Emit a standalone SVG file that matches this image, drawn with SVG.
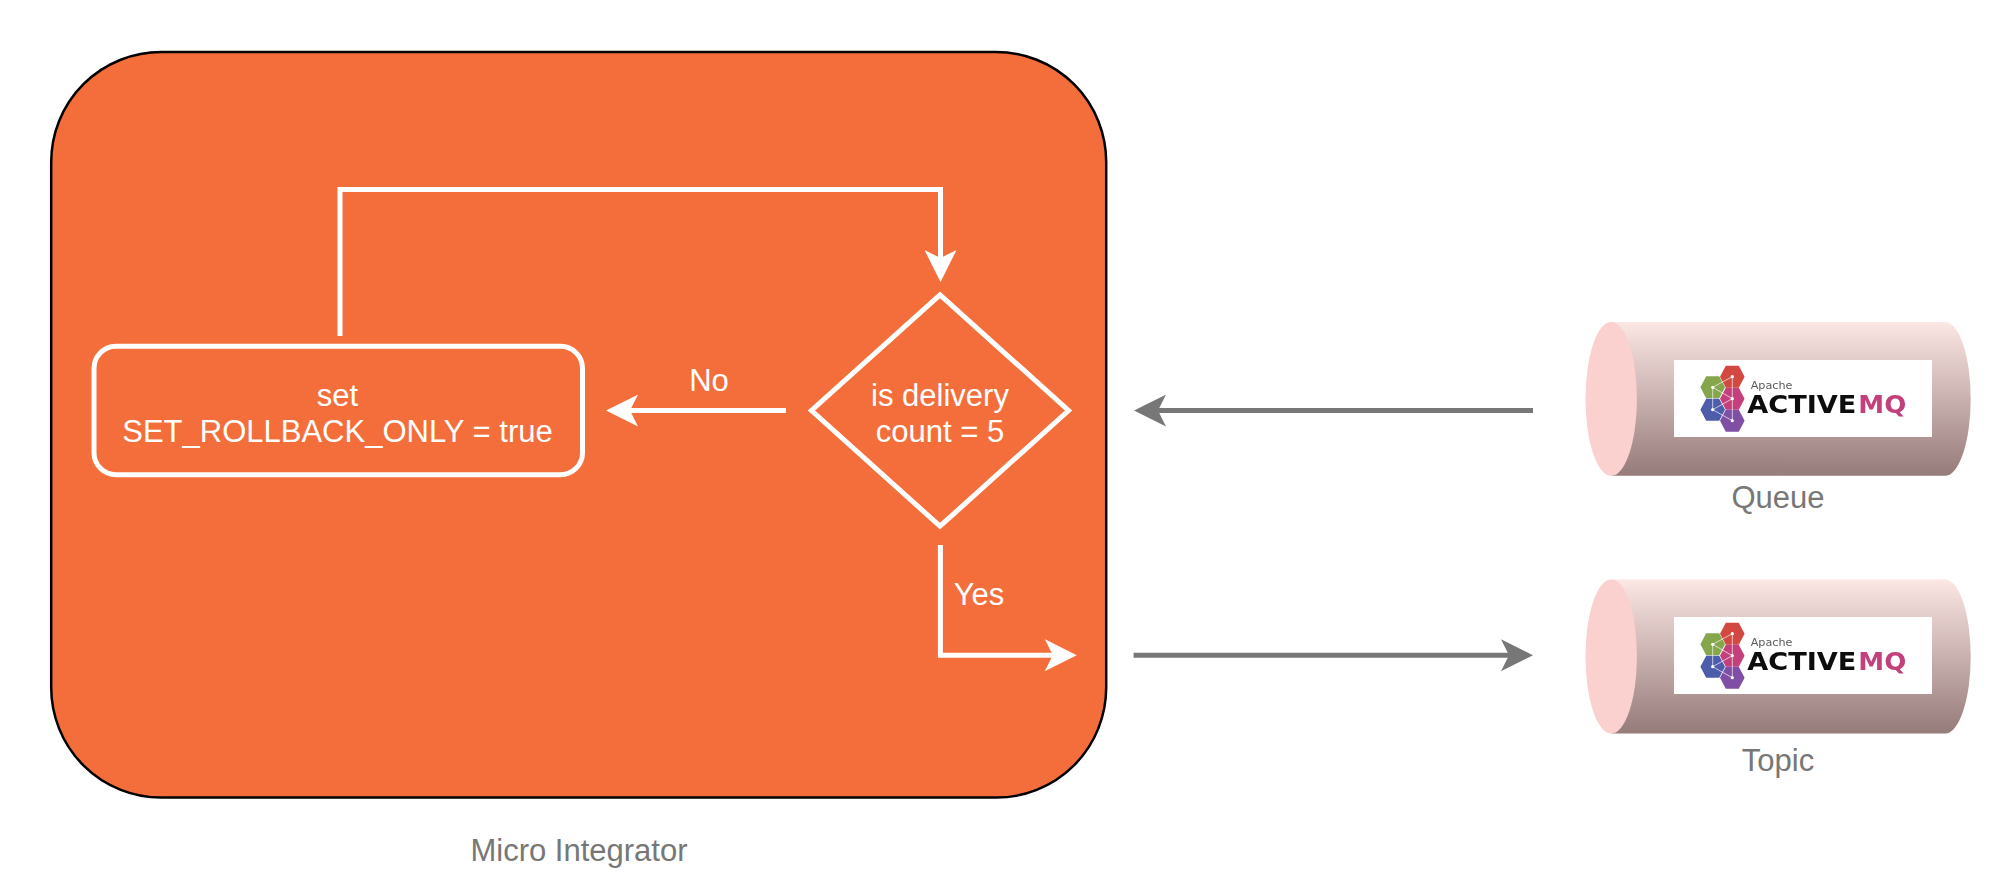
<svg xmlns="http://www.w3.org/2000/svg" width="2010" height="894" viewBox="0 0 2010 894">
  <style>
    text { font-family: "Liberation Sans", Arial, sans-serif; font-size: 31px; text-anchor: middle; }
    .w { fill: #ffffff; }
    .g { fill: #777777; }
    .wl { fill: none; stroke: #ffffff; stroke-width: 5; stroke-linejoin: miter; }
    .gl { fill: none; stroke: #777777; stroke-width: 5; }
    .body { fill: url(#cyl); }
    .face { fill: #fad1cf; }
    .logo { filter: url(#soft); }
    .apache { font-family: "DejaVu Sans", sans-serif; font-size: 11.2px; fill: #5a5a5a; text-anchor: start; }
    .active { font-family: "DejaVu Sans", sans-serif; font-weight: bold; font-size: 25.6px; fill: #0a0a0a; text-anchor: start; }
    .mq { font-family: "DejaVu Sans", sans-serif; font-weight: bold; font-size: 25.6px; fill: #c4417b; text-anchor: start; }
    .lk { stroke: #ffffff; stroke-width: 1; stroke-opacity: .65; fill: none; }
  </style>
  <defs>
    <linearGradient id="cyl" x1="0" y1="0" x2="0" y2="1">
      <stop offset="0" stop-color="#fce7e5"/>
      <stop offset="1" stop-color="#957b7a"/>
    </linearGradient>
    <filter id="soft" x="-5%" y="-5%" width="110%" height="110%">
      <feGaussianBlur stdDeviation="0.4"/>
    </filter>
    <marker id="aw" markerUnits="userSpaceOnUse" markerWidth="32" markerHeight="32" viewBox="0 0 32 32" refX="8" refY="16" orient="auto">
      <path d="M0,0 L32,16 L0,32 L8,16 Z" fill="#ffffff"/>
    </marker>
    <marker id="ag" markerUnits="userSpaceOnUse" markerWidth="32" markerHeight="32" viewBox="0 0 32 32" refX="8" refY="16" orient="auto">
      <path d="M0,0 L32,16 L0,32 L8,16 Z" fill="#777777"/>
    </marker>
    <path id="hex" d="M-12.3,0 L-6.5,-11 L6.5,-11 L12.3,0 L6.5,11 L-6.5,11 Z"/>
    <g id="mark">
      <use href="#hex" x="1732.3" y="376.7" fill="#d14a40"/>
      <use href="#hex" x="1712.7" y="387.3" fill="#85a64c"/>
      <use href="#hex" x="1732.3" y="398.7" fill="#c4417b"/>
      <use href="#hex" x="1712.7" y="409.7" fill="#4e5cab"/>
      <use href="#hex" x="1732.3" y="420.7" fill="#7f4fa6"/>
      <path class="lk" d="M1732.3,376.7 L1712.7,387.3 L1732.3,398.7 L1712.7,409.7 L1732.3,420.7 M1732.3,376.7 V420.7 M1712.7,387.3 V409.7"/>
      <g fill="#ffffff">
        <circle cx="1732.3" cy="376.7" r="1.6"/>
        <circle cx="1712.7" cy="387.3" r="1.6"/>
        <circle cx="1732.3" cy="398.7" r="1.6"/>
        <circle cx="1712.7" cy="409.7" r="1.6"/>
        <circle cx="1732.3" cy="420.7" r="1.6"/>
      </g>
    </g>
  </defs>

  <g id="micro-integrator">
    <rect x="51.2" y="52" width="1055" height="745.6" rx="110" ry="110" fill="#f46e3b" stroke="#000000" stroke-width="2.5"/>
    <text class="g" x="579" y="861">Micro Integrator</text>
  </g>

  <g id="set-rollback">
    <rect class="wl" x="94" y="346.3" width="488.5" height="128.5" rx="22" ry="22"/>
    <text class="w" x="337.5" y="406">set</text>
    <text class="w" x="337.5" y="442">SET_ROLLBACK_ONLY = true</text>
  </g>

  <g id="decision">
    <path class="wl" d="M940,294.8 L1068.5,410.5 L940,526.2 L811.5,410.5 Z"/>
    <text class="w" x="940" y="405.5">is delivery</text>
    <text class="w" x="940" y="441.5">count = 5</text>
  </g>

  <g id="connectors">
    <path class="wl" d="M340,336 V189.5 H940.5 V258" marker-end="url(#aw)"/>
    <path class="wl" d="M786,410.6 H630" marker-end="url(#aw)"/>
    <path class="wl" d="M940.4,545 V655.2 H1052.8" marker-end="url(#aw)"/>
    <path class="gl" d="M1533,410.6 H1158" marker-end="url(#ag)"/>
    <path class="gl" d="M1133.6,655.2 H1509" marker-end="url(#ag)"/>
  </g>

  <g id="label-no"><text class="w" x="709" y="391">No</text></g>
  <g id="label-yes"><text class="w" x="979" y="604.5">Yes</text></g>

  <g id="queue">
    <path class="body" d="M1611.7,322 H1945 A25.7,76.9 0 0 1 1945,475.8 H1611.7 Z"/>
    <ellipse class="face" cx="1611.2" cy="398.9" rx="25.7" ry="76.9"/>
    <rect x="1674" y="360" width="258" height="77" fill="#ffffff"/>
    <g class="logo">
      <use href="#mark"/>
      <text class="apache" x="1750.7" y="389.3">Apache</text>
      <text class="active" x="1747.3" y="412.7" textLength="109" lengthAdjust="spacingAndGlyphs">ACTIVE</text>
      <text class="mq" x="1858.3" y="412.7" textLength="48" lengthAdjust="spacingAndGlyphs">MQ</text>
    </g>
    <text class="g" x="1778" y="507.5">Queue</text>
  </g>

  <g id="topic">
    <path class="body" d="M1611.7,579.5 H1945 A25.7,77 0 0 1 1945,733.5 H1611.7 Z"/>
    <ellipse class="face" cx="1611.2" cy="656.5" rx="25.7" ry="77"/>
    <rect x="1674" y="617" width="258" height="77" fill="#ffffff"/>
    <g class="logo">
      <use href="#mark" y="257"/>
      <text class="apache" x="1750.7" y="646.3">Apache</text>
      <text class="active" x="1747.3" y="669.7" textLength="109" lengthAdjust="spacingAndGlyphs">ACTIVE</text>
      <text class="mq" x="1858.3" y="669.7" textLength="48" lengthAdjust="spacingAndGlyphs">MQ</text>
    </g>
    <text class="g" x="1778" y="771">Topic</text>
  </g>
</svg>
